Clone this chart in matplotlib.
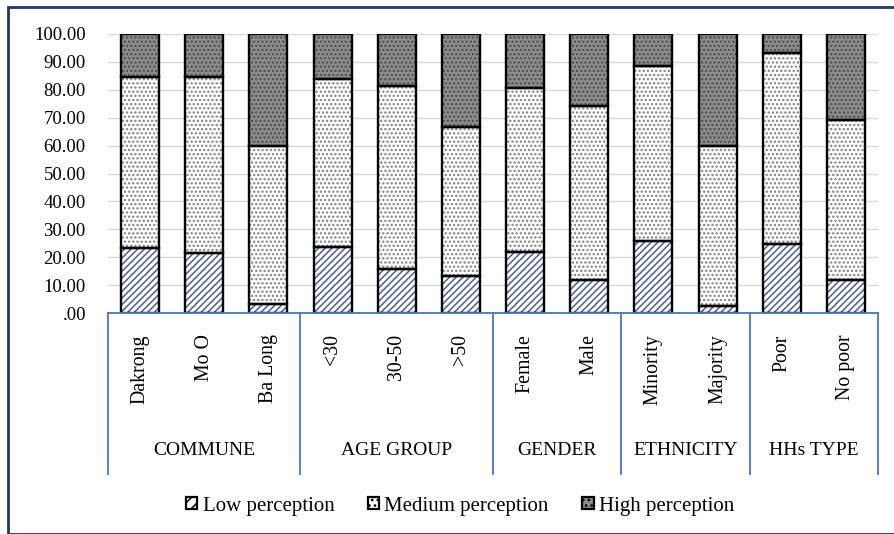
import matplotlib
matplotlib.use("Agg")
import matplotlib.pyplot as plt
from matplotlib.patches import Rectangle, Patch
from matplotlib.transforms import blended_transform_factory
import numpy as np

categories = ["Dakrong", "Mo O", "Ba Long", "<30", "30-50", ">50",
              "Female", "Male", "Minority", "Majority", "Poor", "No poor"]
groups = ["COMMUNE", "AGE GROUP", "GENDER", "ETHNICITY", "HHs TYPE"]
group_sizes = [3, 3, 2, 2, 2]
low = [23.2, 21.5, 3.2, 23.8, 15.7, 13.2, 22.0, 11.8, 25.7, 2.6, 24.8, 12.0]
medium = [61.4, 63.1, 56.6, 60.1, 65.5, 53.4, 58.5, 62.3, 62.9, 57.1, 68.2, 57.1]
high = [15.4, 15.4, 40.2, 16.1, 18.8, 33.4, 19.5, 25.9, 11.4, 40.3, 7.0, 30.9]
series_names = ["Low perception", "Medium perception", "High perception"]
yticks = [0, 10, 20, 30, 40, 50, 60, 70, 80, 90, 100]
ytick_labels = [".00", "10.00", "20.00", "30.00", "40.00", "50.00",
                "60.00", "70.00", "80.00", "90.00", "100.00"]

plt.rcParams['font.family'] = ['Liberation Serif', 'DejaVu Serif']
plt.rcParams['hatch.linewidth'] = 1.1

W, H = 894, 534
fig = plt.figure(figsize=(W / 100, H / 100), dpi=100)
ax = fig.add_axes([108 / W, 1 - 313.3 / H, 770 / W, 279.6 / H])

x = np.arange(len(categories))
bw = 0.59
styles = [
    dict(face="white", hatch="/////", hcolor="#4a5d96"),
    dict(face="white", hatch="....", hcolor="#7f7f7f"),
    dict(face="#8c8c8c", hatch="....", hcolor="#4d4d4d"),
]
bottom = np.zeros(len(categories))
for vals, st in zip([low, medium, high], styles):
    v = np.array(vals)
    ax.bar(x, v, bw, bottom=bottom, color=st["face"], hatch=st["hatch"],
           edgecolor=st["hcolor"], linewidth=0, zorder=2)
    ax.bar(x, v, bw, bottom=bottom, fill=False, edgecolor="black",
           linewidth=1.7, zorder=3)
    bottom += v

ax.set_xlim(-0.5, len(categories) - 0.5)
ax.set_ylim(0, 100)
ax.set_yticks(yticks)
ax.set_yticklabels(ytick_labels, fontsize=13.5)
ax.yaxis.grid(True, color="#d9d9d9", linewidth=1.0, zorder=0)
ax.set_axisbelow(True)
ax.tick_params(axis="y", length=0, pad=16)
ax.set_xticks(x)
ax.set_xticklabels(categories, rotation=90, fontsize=14.3)
ax.tick_params(axis="x", length=0, pad=15)
for s in ["top", "right", "left"]:
    ax.spines[s].set_visible(False)
ax.spines["bottom"].set_color("#4a76c0")
ax.spines["bottom"].set_linewidth(1.3)
ax.spines["bottom"].set_zorder(4)

trans = blended_transform_factory(ax.transData, ax.transAxes)
bounds = np.concatenate([[0], np.cumsum(group_sizes)]) - 0.5
for b in bounds:
    ax.plot([b, b], [0, -0.575], color="#4a76c0", linewidth=1.3,
            transform=trans, clip_on=False)
for g, a, b in zip(groups, bounds[:-1], bounds[1:]):
    ax.text((a + b) / 2, -0.489, g, transform=trans, ha="center",
            va="center", fontsize=14)

handles = [Patch(facecolor=st["face"], hatch="///" if i == 0 else "...",
                 edgecolor="black", linewidth=1.6) for i, st in enumerate(styles)]
leg = fig.legend(handles, series_names, loc="center",
                 bbox_to_anchor=(460 / W, 1 - 506 / H), ncol=3, frameon=False,
                 fontsize=15, handlelength=0.55, handleheight=0.55,
                 handletextpad=0.25, columnspacing=1.6)

fig.patches.append(Rectangle((8 / W, 0), 1.0, 1 - 7 / H, fill=False,
                             edgecolor="#1f3864", linewidth=2.0,
                             transform=fig.transFigure))

fig.savefig("out.png", dpi=100)
